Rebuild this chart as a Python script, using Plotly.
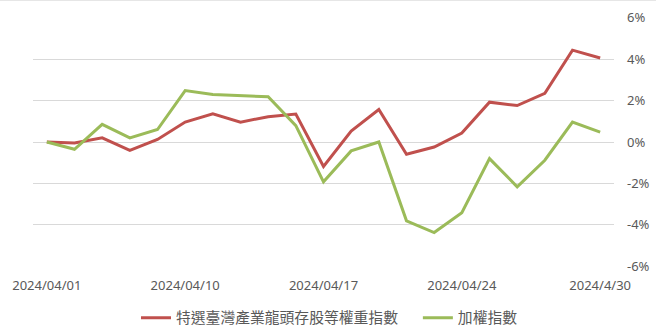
import plotly.graph_objects as go

# x positions are trading-day indices; tick labels shown at selected ones
day_index = list(range(21))
tick_index = [0, 5, 10, 15, 20]
tick_labels = ["2024/04/01", "2024/04/10", "2024/04/17", "2024/04/24", "2024/4/30"]

series_names = ["特選臺灣產業龍頭存股等權重指數", "加權指數"]
leader_index = [0.0, -0.05, 0.2, -0.4, 0.12, 0.96, 1.36, 0.96, 1.22, 1.35, -1.18,
                0.53, 1.57, -0.59, -0.24, 0.43, 1.92, 1.76, 2.35, 4.43, 4.05]
taiex = [0.0, -0.35, 0.85, 0.2, 0.6, 2.48, 2.29, 2.22, 2.18, 0.79, -1.92,
         -0.43, 0.0, -3.8, -4.37, -3.41, -0.8, -2.16, -0.88, 0.96, 0.48]

y_ticks = [-6, -4, -2, 0, 2, 4, 6]
y_tick_text = [f"{v}%" for v in y_ticks]

fig = go.Figure()
fig.add_trace(go.Scatter(x=day_index, y=leader_index, mode="lines", name=series_names[0],
                         line=dict(color="#C0504D", width=3), legend="legend"))
fig.add_trace(go.Scatter(x=day_index, y=taiex, mode="lines", name=series_names[1],
                         line=dict(color="#9BBB59", width=3), legend="legend2"))

legend_common = dict(orientation="h", xref="container", xanchor="left",
                     yref="container", y=0.045, yanchor="middle",
                     font=dict(family="Noto Sans CJK TC", size=14.8, color="#595959"),
                     itemwidth=30, bgcolor="rgba(0,0,0,0)")

fig.update_layout(
    width=656, height=333,
    margin=dict(l=33, r=42, t=17, b=66, autoexpand=False),
    paper_bgcolor="white", plot_bgcolor="white",
    font=dict(family="Noto Sans, Noto Sans CJK TC", size=12, color="#595959"),
    xaxis=dict(range=[-0.5, 20.5], tickmode="array", tickvals=tick_index, ticktext=tick_labels,
               showgrid=False, zeroline=False, showline=False, ticks="",
               ticklabelstandoff=9,
               tickfont=dict(size=13, color="#595959")),
    yaxis=dict(range=[-6.03, 6.03], side="right", tickmode="array", tickvals=y_ticks, ticktext=y_tick_text,
               showgrid=True, gridcolor="#D9D9D9", gridwidth=1, zeroline=False, showline=False,
               ticks="", ticklabelstandoff=12, tickfont=dict(size=13, color="#595959")),
    legend=dict(x=0.2073, **legend_common),
    legend2=dict(x=0.637, **legend_common),
    showlegend=True,
    shapes=[dict(type="line", xref="paper", yref="paper", x0=-0.06, x1=1.08, y0=1.066, y1=1.066,
                 line=dict(color="#E6E6E6", width=1))],
)

fig.write_html("out.html")
